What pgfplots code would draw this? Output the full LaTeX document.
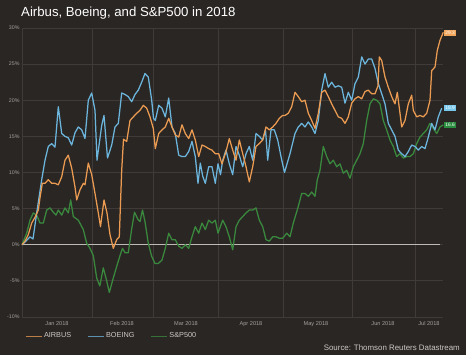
\documentclass[border=0pt]{standalone}
\usepackage{pgfplots}
\pgfplotsset{compat=1.18}
\usepackage{pgfplotstable}
\usepackage{fontspec}
\setmainfont{Liberation Sans}
\definecolor{bg}{RGB}{42,38,36}
\definecolor{gridc}{RGB}{64,59,56}
\definecolor{zeroc}{RGB}{190,186,182}
\definecolor{airbus}{RGB}{236,156,82}
\definecolor{boeing}{RGB}{108,182,222}
\definecolor{spx}{RGB}{58,138,62}
\definecolor{airbusbox}{RGB}{242,166,92}
\definecolor{boeingbox}{RGB}{120,200,236}
\definecolor{spxbox}{RGB}{42,140,62}
\definecolor{ticktext}{RGB}{165,160,156}
\definecolor{legtext}{RGB}{205,200,196}

\pgfplotstableread{
x y
0 0
4 0.5
8 1.1
11 0.8
14.7 4.4
19.7 9
23 11.7
26.3 13.6
29.7 14
33 13.5
36.3 19.1
39.7 15.4
43 15
46.3 14.8
49.7 13.8
53 15.5
56.3 16.3
59.7 15.9
63 14.7
66.3 20
69.7 21
73 18.6
75 11.7
79.7 16.5
82 17.9
85.5 12
89.7 13.8
93 16.3
96.3 16.8
99.7 21
103 20.8
106.3 20.5
109.7 19.8
113 20.8
116.3 21.4
119.7 22.5
123 23.7
126.3 23.2
129.7 20
131.5 17.5
133.3 17.2
136.7 19.3
140 18.9
143.3 17.7
146.7 20.3
150 16.3
153.3 15.4
156.7 12.4
160 12.2
163.3 12.2
166.7 12.9
170 14.3
173.3 12.2
176 8.5
178.3 11.3
180.7 9.5
183.3 8.5
186.7 10.8
190 10.8
193.3 8.5
196 11.2
198.5 9.7
200.7 11.7
204 13.1
207.3 11.2
210.7 9.7
214 13.6
217.3 12.4
220.7 10.8
224 12.6
227.3 13.6
230.7 11.7
234 15.4
237.3 15
240.7 14.5
243.5 15.9
245.7 11.7
249 15.9
252.3 15.9
255.7 14.5
259 12.2
262.5 10
268 12.6
273 15.4
276.3 16.3
279.7 16.8
283 16.3
286.3 17
289.7 16.3
293 15.4
296.3 17.2
299.7 21.4
303 23.7
306.3 21.8
309.7 22.5
313 21.8
316.3 22
319.7 21.8
323 19.6
326.3 21.1
329.7 20
333 22.3
336.3 23.2
339.7 26
343 25
346.3 25.7
349.7 25.7
353 24.4
356.3 22.3
359.7 20.9
363 19.5
366.3 16.8
369.7 15.9
373 15
376.3 13.1
379.7 12.6
383 12.2
386.3 12.9
389.7 13.8
393 13.6
396.3 13.1
399.7 13.6
403 13.3
406.3 14.9
409.7 16.8
413 15.9
416.3 17.7
419.7 18.9
}\boeingdata

\pgfplotstableread{
x y
0 0
3 0.5
6.3 1.4
9.7 3
13 3.8
16.3 4.8
18 6.5
20.3 8.5
23 8.5
26.3 9
29.7 8.5
33 8.5
36.3 8.3
39.7 9.4
43 11.7
46.3 12.4
49.7 10.6
53 8
54.7 6.2
58 7.6
61.3 8.5
63 8.3
66.3 11.3
69.7 9.7
73 7.1
76.3 4.4
78.5 2.5
82 6.2
85 4.4
88 1.4
91.3 -0.5
94.7 0.7
97.3 1.1
99.7 10.3
101.5 14.6
104.7 14.3
108 17.2
111.3 17.7
114.7 18.2
118 18.6
121.3 19.3
124.7 18.9
128 17.7
131.3 16.1
133.3 13.3
136.7 15.4
140 15.9
143.3 16.3
146.7 17.5
150 16.3
153.3 15.2
156.7 14.9
160 16.6
163.3 15.4
166.7 14.7
170 15.9
173.3 14.5
176.7 12.2
180 13.8
183.3 13.6
186.7 13.3
190 13.1
193.3 12.6
196.7 12.6
200 11.2
204 12.9
207.3 14.7
210.7 13.1
214 11.7
217.3 14.5
220.7 12.6
224 10.8
227.3 8.7
230.7 10.8
234 13.6
237.3 14
240.7 14.5
244 16.3
247.3 15.9
250.7 16.3
254 16.8
257.3 17.5
260.7 17.9
263 17.9
266.3 18.2
269.7 19.1
273 21.1
276.3 20.5
279.7 19.8
283 20
286.3 18.2
289.7 17.2
293 16.1
296.3 18.2
299.7 21.1
303 21.4
306.3 20.5
309.7 19.5
313 18.6
316.3 17.7
319.7 17.5
323 16.8
326.3 17.7
329.7 19.6
333 20.2
336.3 20.5
339.7 20.2
343 21.2
346.3 21.4
349.7 20.9
353 20.9
356 22
357.3 26
359.7 25.5
363 23.2
366.3 21.8
369.7 20.5
373 19.5
375.3 21.1
378 18.2
379.7 16.3
383 17.2
386.3 19.5
389.7 20.7
391.3 18.6
394.7 17.7
398 17.9
401.3 17.7
404.7 18.2
408 20
409.7 24.1
413 24.6
415.3 26.9
418 28.3
421.3 29.4
}\airbusdata

\pgfplotstableread{
x y
0 0
4.7 1.6
8 3.4
11.3 4.4
14.7 4.1
18 3
21.3 3
24.7 4.8
28 5.1
31.3 4.5
34 4.1
36.3 4.8
39.7 4.1
43 5.1
46.3 4.4
48.7 6.2
51.3 3.9
56.3 3.4
61.3 2.1
64.7 0.2
68 -0.5
71.3 -1.5
74.7 -4.6
77.8 -5.7
81.3 -3.2
84.7 -5
87.3 -6.6
91.3 -4.6
94.7 -3
98 -1.5
100.5 -0.5
103 -1.1
106.3 -1.1
109.7 2.2
112.5 4.5
116 3.5
118 3.2
120.5 4.8
123 3.2
126.3 0.2
129.7 -1.6
133 -2.6
136.3 -2.6
140 -2.1
143.3 -0.5
146.7 1.6
150 0.7
153.3 0.7
156.7 -0.2
160 -0.5
163.3 0
166.7 -0.5
170 1.1
173.3 2.5
176.7 1.6
180 3
183.3 2.1
186.7 3.4
190 3
193.3 3.4
196 1.6
200.7 3.4
204 2.5
207.3 1.1
210.7 -0.7
214 2.5
217.3 3.4
220.7 3.9
224 4.4
227.3 4.8
230.7 4.8
234 5.1
237.3 3.4
240.7 2.5
244 0.7
247.3 0.5
250.7 1.1
254 1.1
257.3 0.9
260.7 0.9
264.7 1.6
268 1.1
271.3 3
276.3 5.3
279.7 7.1
283 7.1
286.3 6.7
289.7 7.3
293 6.7
295.3 9
298 10.3
301.3 13.6
304.7 12.2
308 11.2
311.3 11.7
314.7 10.8
318 11.2
321.3 9.9
324.7 10.3
328 9.2
331.3 10.8
334.7 11.7
338 12.6
341.3 14
344.7 17.2
348 19.5
351.3 20.2
354.7 20
358 19.5
361.3 17.2
364.7 15.9
368 14.5
371.3 13.6
374.7 12.2
378 12.6
381.3 12
384.7 12.2
388 12.2
391.3 12.6
394.7 14
398 14.9
401.3 15.4
404.7 15.9
408 16.8
411.3 16.1
414.7 15.4
418 16.3
421.3 16.6
}\spxdata

\begin{document}
\begin{tikzpicture}
\useasboundingbox (0,0) rectangle (466pt,355pt);
\fill[bg] (0,0) rectangle (466pt,355pt);
\node[anchor=west, text=white, font=\fontsize{13.2}{15}\selectfont, inner sep=0pt] at (21pt,342pt) {Airbus, Boeing, and S\&P500 in 2018};
\node[anchor=east, text=legtext, font=\fontsize{7.9}{9}\selectfont, inner sep=0pt] at (460pt,7pt) {Source: Thomson Reuters Datastream};
\begin{axis}[
  at={(22pt,38pt)}, anchor=south west,
  scale only axis, width=421pt, height=289pt,
  xmin=0, xmax=421, ymin=-10, ymax=30,
  clip=false,
  axis line style={draw=none},
  major tick length=0pt, minor tick length=0pt,
  ytick={-10,-5,...,30},
  yticklabel={\pgfmathprintnumber{\tick}\%},
  yticklabel style={text=ticktext, font=\fontsize{5.3}{6}\selectfont, xshift=1pt},
  xtick={35,100,164,229,294,361,407},
  xticklabels={Jan 2018,Feb 2018,Mar 2018,Apr 2018,May 2018,Jun 2018,Jul 2018},
  xticklabel style={text=ticktext, font=\fontsize{5.6}{6}\selectfont, yshift=-1pt},
  minor xtick={0,70,131,196,261,330,393},
  xminorgrids=true, xmajorgrids=false, ymajorgrids=true,
  grid style={gridc, line width=0.8pt},
  minor grid style={gridc, line width=0.8pt},
  /pgf/number format/assume math mode=true,
  legend style={at={(rel axis cs:0.007,-0.066)}, anchor=west, draw=none, fill=none,
    text=legtext, font=\fontsize{7.3}{8}\selectfont, inner sep=0pt,
    /tikz/every even column/.append style={column sep=14pt}},
  legend columns=3,
  legend cell align=left,
  legend image code/.code={\draw[#1] (0pt,0pt) -- (16pt,0pt);},
]
\addlegendimage{airbus!75!bg, line width=0.9pt}
\addlegendentry{AIRBUS}
\addlegendimage{boeing!75!bg, line width=0.9pt}
\addlegendentry{BOEING}
\addlegendimage{spx!75!bg, line width=0.9pt}
\addlegendentry{S\&P500}
\addplot[zeroc, line width=1pt, forget plot] coordinates {(0,0) (418,0)};
\addplot[spx, line width=1.25pt, line join=round, forget plot] table[x=x,y=y] {\spxdata};
\addplot[boeing, line width=1.25pt, line join=round, forget plot] table[x=x,y=y] {\boeingdata};
\addplot[airbus, line width=1.25pt, line join=round, forget plot] table[x=x,y=y] {\airbusdata};
\node[fill=airbusbox, text=white, font=\fontsize{4.8}{5}\selectfont, inner sep=1.2pt, anchor=west] at (axis cs:422,29.3) {29.3};
\node[fill=boeingbox, text=white, font=\fontsize{4.8}{5}\selectfont, inner sep=1.2pt, anchor=west] at (axis cs:422,18.9) {18.9};
\node[fill=spxbox, text=white, font=\fontsize{4.8}{5}\selectfont, inner sep=1.2pt, anchor=west] at (axis cs:422,16.6) {16.6};
\end{axis}
\end{tikzpicture}
\end{document}
